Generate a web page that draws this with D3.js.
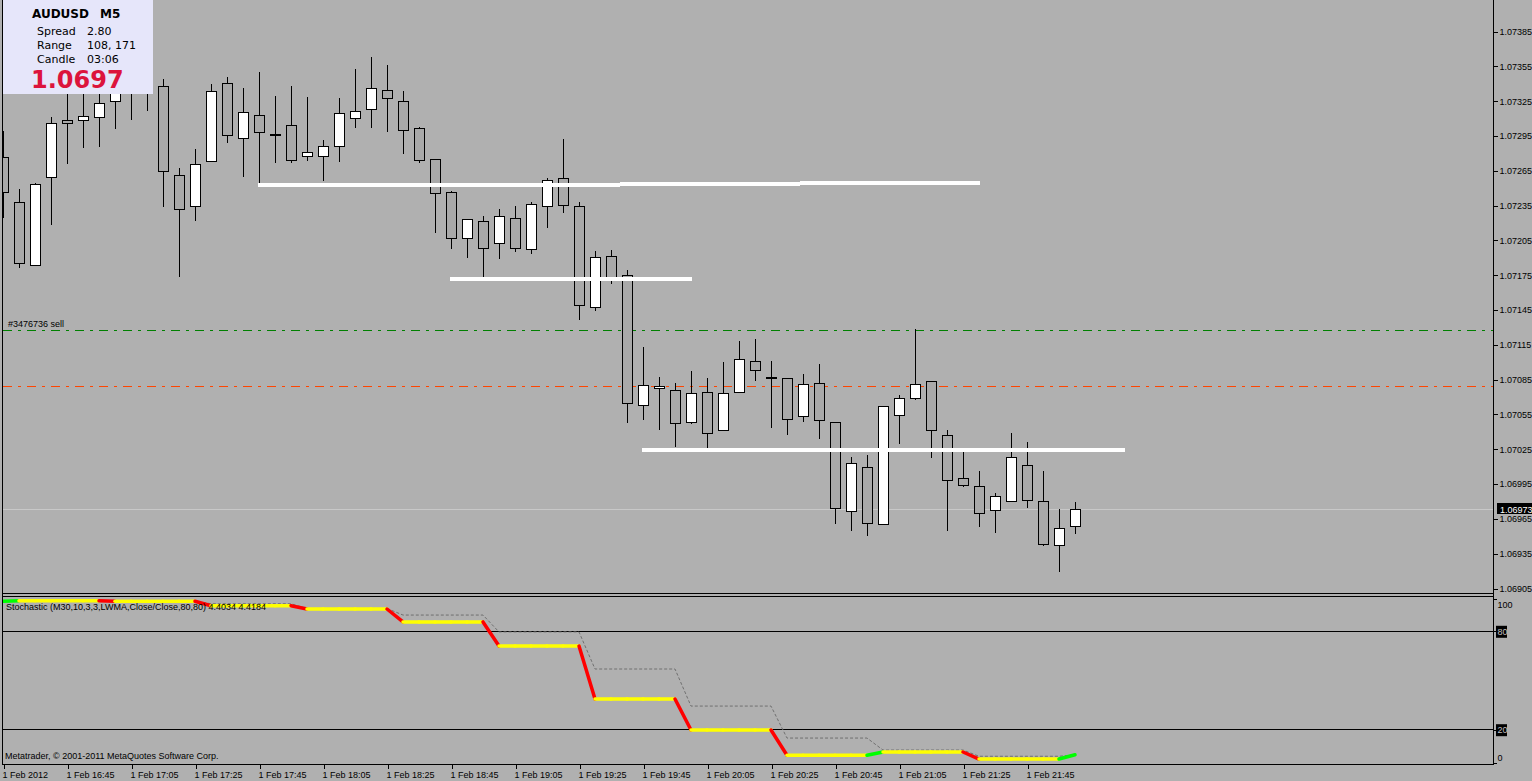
<!DOCTYPE html>
<html><head><meta charset="utf-8">
<script src="https://cdn.jsdelivr.net/npm/d3@7"></script>
<style>
html,body{margin:0;padding:0;background:#b0b0b0;overflow:hidden}
svg{display:block;font-family:"Liberation Sans",Arial,sans-serif}
</style></head><body>
<svg id="chart" width="1532" height="781"></svg>
<script>
// ---------- DATA (AUDUSD M5, 1 Feb 2012, 16:25 .. 22:00) ----------
const candleOpen = [1.07276,1.07238,1.07183,1.07259,1.07308,1.07308,1.07311,1.07325,1.07339,1.07336,
1.07338,1.07261,1.07234,1.07273,1.07340,1.07293,1.07313,1.07296,1.07304,1.07277,
1.07277,1.07286,1.07310,1.07318,1.07334,1.07325,1.07301,1.07275,1.07246,1.07207,
1.07221,1.07202,1.07224,1.07197,1.07234,1.07258,1.07234,1.07147,1.07191,1.07175,
1.07063,1.07077,1.07076,1.07048,1.07074,1.07041,1.07074,1.07101,1.07087,1.07086,
1.07053,1.07082,1.07048,1.06971,1.07009,1.06960,1.07054,1.07069,1.07083,1.07037,
1.07000,1.06993,1.06972,1.06980,1.07011,1.06980,1.06942,1.06958];
const candleHigh = [1.07299,1.07249,1.07254,1.07311,1.07343,1.07341,1.07338,1.07347,1.07351,1.07347,
1.07344,1.07267,1.07283,1.07339,1.07345,1.07336,1.07350,1.07329,1.07338,1.07328,
1.07291,1.07327,1.07352,1.07363,1.07356,1.07333,1.07302,1.07275,1.07247,1.07223,
1.07226,1.07232,1.07234,1.07238,1.07258,1.07292,1.07238,1.07195,1.07196,1.07179,
1.07113,1.07087,1.07082,1.07092,1.07086,1.07100,1.07118,1.07120,1.07101,1.07086,
1.07089,1.07098,1.07048,1.07018,1.07020,1.07062,1.07071,1.07128,1.07083,1.07041,
1.07022,1.07006,1.06987,1.07039,1.07031,1.07006,1.06973,1.06979];
const candleLow = [1.07225,1.07182,1.07183,1.07219,1.07271,1.07285,1.07286,1.07301,1.07309,1.07317,
1.07234,1.07174,1.07222,1.07273,1.07289,1.07260,1.07253,1.07272,1.07272,1.07274,
1.07257,1.07273,1.07302,1.07302,1.07299,1.07280,1.07272,1.07212,1.07198,1.07190,
1.07173,1.07189,1.07195,1.07194,1.07216,1.07229,1.07137,1.07145,1.07168,1.07048,
1.07051,1.07042,1.07027,1.07047,1.07026,1.07041,1.07074,1.07084,1.07044,1.07038,
1.07049,1.07034,1.06961,1.06955,1.06951,1.06960,1.07030,1.07068,1.07018,1.06955,
1.06993,1.06958,1.06953,1.06980,1.06975,1.06942,1.06920,1.06952];
const candleClose = [1.07246,1.07185,1.07253,1.07306,1.07306,1.07312,1.07323,1.07339,1.07334,1.07332,
1.07264,1.07232,1.07270,1.07333,1.07295,1.07315,1.07298,1.07296,1.07274,1.07281,
1.07286,1.07314,1.07316,1.07336,1.07327,1.07300,1.07274,1.07245,1.07207,1.07223,
1.07198,1.07226,1.07198,1.07236,1.07257,1.07235,1.07149,1.07190,1.07172,1.07064,
1.07080,1.07079,1.07047,1.07073,1.07039,1.07073,1.07102,1.07093,1.07087,1.07051,
1.07081,1.07050,1.06974,1.07013,1.06961,1.07062,1.07069,1.07081,1.07041,1.06998,
1.06994,1.06970,1.06984,1.07018,1.06981,1.06943,1.06957,1.06973];

// Stochastic (M30) main and signal, one value per M5 candle
const stochMain = [98.0,
 98.3,98.3,98.3,98.3,98.3,98.3,
 98.0,98.0,98.0,98.0,98.0,98.0,
 95.3,95.3,95.3,95.3,95.3,95.3,
 93.3,93.3,93.3,93.3,93.3,93.3,
 85.4,85.4,85.4,85.4,85.4,85.4,
 70.7,70.7,70.7,70.7,70.7,70.7,
 38.4,38.4,38.4,38.4,38.4,38.4,
 19.5,19.5,19.5,19.5,19.5,19.5,
 4.1,4.1,4.1,4.1,4.1,4.1,
 6.1,6.1,6.1,6.1,6.1,6.1,
 1.8,1.8,1.8,1.8,1.8,1.8,
 4.4034];
const stochSignal = [98.2,
 98.2,98.2,98.2,98.2,98.2,98.2,
 98.1,98.1,98.1,98.1,98.1,98.1,
 96.5,96.5,96.5,96.5,96.5,96.5,
 93.6,93.6,93.6,93.6,93.6,93.6,
 89.6,89.6,89.6,89.6,89.6,89.6,
 79.3,79.3,79.3,79.3,79.3,79.3,
 56.7,56.7,56.7,56.7,56.7,56.7,
 34.1,34.1,34.1,34.1,34.1,34.1,
 14.6,14.6,14.6,14.6,14.6,14.6,
 7.3,7.3,7.3,7.3,7.3,7.3,
 3.5,3.5,3.5,3.5,3.5,3.5,
 4.4184];

const timeTickIndex = [0,4,8,12,16,20,24,28,32,36,40,44,48,52,56,60,64];
const timeTickLabels = ["1 Feb 2012","1 Feb 16:45","1 Feb 17:05","1 Feb 17:25","1 Feb 17:45","1 Feb 18:05",
 "1 Feb 18:25","1 Feb 18:45","1 Feb 19:05","1 Feb 19:25","1 Feb 19:45","1 Feb 20:05","1 Feb 20:25",
 "1 Feb 20:45","1 Feb 21:05","1 Feb 21:25","1 Feb 21:45"];
const priceTicks = [1.07385,1.07355,1.07325,1.07295,1.07265,1.07235,1.07205,1.07175,1.07145,
 1.07115,1.07085,1.07055,1.07025,1.06995,1.06965,1.06935,1.06905];
const stochTicks = [100,80,20,0];
const stochLevels = [80,20];

// support / resistance lines (price, from candle, to candle)
const srPrice = [1.07252,1.07253,1.07254,1.07171,1.07024];
const srFrom  = [15.94,38.56,49.81,27.94,39.94];
const srTo    = [38.56,49.81,61.06,43.06,70.1];

const orderPrice = [1.07127,1.07079];
const orderLabel = "#3476736 sell";
const bidPrice = 1.06973;

const infoSymbol = "AUDUSD", infoPeriod = "M5";
const infoRows = [["Spread","2.80"],["Range","108, 171"],["Candle","03:06"]];
const infoPrice = "1.0697";
const stochTitle = "Stochastic (M30,10,3,3,LWMA,Close/Close,80,80) 4.4034 4.4184";
const copyright = "Metatrader, \u00A9 2001-2011 MetaQuotes Software Corp.";

// ---------- DRAW ----------
const svg = d3.select("#chart");
const BG = "#b0b0b0";
const L = 3, R = 1494, mainTop = 0, mainBot = 594, indTop = 597, indBot = 764;

const x = d3.scaleLinear().domain([0, 1]).range([3, 19]);
const y = d3.scaleLinear().domain([1.06905, 1.07385]).range([588, 31]);
const ys = d3.scaleLinear().domain([0, 100]).range([762, 598]);
const px = v => Math.round(v) + 0.5;

svg.append("rect").attr("width",1532).attr("height",781).attr("fill",BG);

const defs = svg.append("defs");
defs.append("clipPath").attr("id","clipMain").append("rect")
  .attr("x",L).attr("y",mainTop).attr("width",R-L).attr("height",mainBot-mainTop);
defs.append("clipPath").attr("id","clipInd").append("rect")
  .attr("x",L).attr("y",indTop+1).attr("width",R-L).attr("height",indBot-indTop-1);

const gMain = svg.append("g").attr("clip-path","url(#clipMain)");

// bid line
gMain.append("line").attr("x1",L).attr("x2",R).attr("y1",px(y(bidPrice))).attr("y2",px(y(bidPrice)))
  .attr("stroke","#c8c8c8").attr("stroke-width",1);

// order lines
const orderColors = ["#008000","#ff4500"];
gMain.selectAll(".ord").data(orderPrice).join("line")
  .attr("x1",L).attr("x2",R)
  .attr("y1",d=>px(y(d))).attr("y2",d=>px(y(d)))
  .attr("stroke",(d,i)=>orderColors[i]).attr("stroke-width",1)
  .attr("stroke-dasharray","9,6,3,6").attr("shape-rendering","crispEdges");
gMain.append("text").attr("x",8).attr("y",Math.round(y(orderPrice[0]))-3)
  .attr("font-size",9).attr("fill","#000").text(orderLabel);

// candles
const idx = d3.range(candleOpen.length);
gMain.selectAll(".wick").data(idx).join("line")
  .attr("x1",i=>px(x(i))).attr("x2",i=>px(x(i)))
  .attr("y1",i=>Math.round(y(candleHigh[i]))).attr("y2",i=>Math.round(y(candleLow[i]))+1)
  .attr("stroke","#000").attr("shape-rendering","crispEdges");
gMain.selectAll(".body").data(idx).join("rect")
  .attr("x",i=>Math.round(x(i))-5+0.5).attr("width",10)
  .attr("y",i=>Math.round(y(Math.max(candleOpen[i],candleClose[i])))+0.5)
  .attr("height",i=>Math.max(1,Math.round(y(Math.min(candleOpen[i],candleClose[i])))-Math.round(y(Math.max(candleOpen[i],candleClose[i])))))
  .attr("fill",i=>candleClose[i]>candleOpen[i]?"#ffffff":(candleClose[i]<candleOpen[i]?"#a9a9a9":"#000"))
  .attr("stroke","#000").attr("stroke-width",1).attr("shape-rendering","crispEdges");

// S/R lines
gMain.selectAll(".sr").data(srPrice).join("line")
  .attr("x1",(d,i)=>x(srFrom[i])).attr("x2",(d,i)=>x(srTo[i]))
  .attr("y1",d=>y(d)).attr("y2",d=>y(d))
  .attr("stroke","#ffffff").attr("stroke-width",4).attr("shape-rendering","crispEdges");

// info box
const info = svg.append("g").attr("font-family","'DejaVu Sans', Verdana, sans-serif");
info.append("rect").attr("x",L).attr("y",0).attr("width",150).attr("height",94).attr("fill","#e6e6fa");
info.append("text").attr("x",32).attr("y",18).attr("font-weight","bold")
  .attr("font-size",12).attr("fill","#000").text(infoSymbol);
info.append("text").attr("x",100).attr("y",18).attr("font-weight","bold")
  .attr("font-size",12).attr("fill","#000").text(infoPeriod);
infoRows.forEach((r,k)=>{
  info.append("text").attr("x",37).attr("y",35+14*k)
    .attr("font-size",11).attr("fill","#000").text(r[0]);
  info.append("text").attr("x",87).attr("y",35+14*k)
    .attr("font-size",11).attr("fill","#000").text(r[1]);
});
info.append("text").attr("x",31).attr("y",87.5).attr("font-weight","bold")
  .attr("font-size",24).attr("fill","#dc143c").text(infoPrice);

// indicator panel
const gInd = svg.append("g").attr("clip-path","url(#clipInd)");
gInd.selectAll(".lvl").data(stochLevels).join("line")
  .attr("x1",L).attr("x2",R).attr("y1",d=>px(ys(d))).attr("y2",d=>px(ys(d)))
  .attr("stroke","#000").attr("shape-rendering","crispEdges");

const sigLine = d3.line().x((d,i)=>x(i)).y(d=>ys(d));
gInd.append("path").attr("d",sigLine(stochSignal)).attr("fill","none")
  .attr("stroke","#707070").attr("stroke-width",1).attr("stroke-dasharray","3,2");

const segs = d3.range(1, stochMain.length);
gInd.selectAll(".seg").data(segs).join("line")
  .attr("x1",i=>x(i-1)).attr("x2",i=>x(i))
  .attr("y1",i=>ys(stochMain[i-1])).attr("y2",i=>ys(stochMain[i]))
  .attr("stroke",i=>stochMain[i]>stochMain[i-1]?"#00ff00":(stochMain[i]<stochMain[i-1]?"#ff0000":"#ffff00"))
  .attr("stroke-width",3.5).attr("stroke-linecap","round");

svg.append("text").attr("x",6).attr("y",610).attr("font-size",9).attr("fill","#000").text(stochTitle);
svg.append("text").attr("x",5).attr("y",759).attr("font-size",9).attr("fill","#000").text(copyright);

// frames
const frame = svg.append("g").attr("stroke","#000").attr("fill","none").attr("shape-rendering","crispEdges");
frame.append("line").attr("x1",2.5).attr("x2",2.5).attr("y1",0).attr("y2",indBot);
frame.append("line").attr("x1",R-0.5).attr("x2",R-0.5).attr("y1",0).attr("y2",indBot+1);
frame.append("line").attr("x1",2).attr("x2",R).attr("y1",mainBot-0.5).attr("y2",mainBot-0.5);
frame.append("line").attr("x1",2).attr("x2",R).attr("y1",indTop-0.5).attr("y2",indTop-0.5);
frame.append("line").attr("x1",2).attr("x2",R).attr("y1",indBot+0.5).attr("y2",indBot+0.5);

// price axis
const yAxis = d3.axisRight(y).tickValues(priceTicks).tickSize(4).tickPadding(2).tickFormat(d3.format(".5f"));
const gy = svg.append("g").attr("transform",`translate(${R-0.5},0.5)`).call(yAxis);
gy.select(".domain").remove();
gy.selectAll(".tick line").attr("stroke","#000").attr("shape-rendering","crispEdges");
gy.selectAll(".tick text").attr("fill","#000").attr("font-size",9).attr("font-family","Liberation Sans");

// bid label
const bidY = Math.round(y(bidPrice));
svg.append("rect").attr("x",1497).attr("y",bidY-6).attr("width",35).attr("height",11).attr("fill","#000");
svg.append("text").attr("x",1500).attr("y",bidY+3.5).attr("font-size",9).attr("fill","#fff").text(d3.format(".5f")(bidPrice));

// stochastic axis
const sAxis = d3.axisRight(ys).tickValues(stochTicks).tickSize(3).tickPadding(1).tickFormat(d3.format("d"));
const gs = svg.append("g").attr("transform",`translate(${R-0.5},0.5)`).call(sAxis);
gs.select(".domain").remove();
gs.selectAll(".tick line").attr("stroke","#000").attr("shape-rendering","crispEdges");
gs.selectAll(".tick text").attr("fill","#000").attr("font-size",9).attr("font-family","Liberation Sans")
  .attr("dy",d=>d===100?"0.95em":(d===0?"-0.2em":"0.32em"));
gs.selectAll(".tick").filter(d=>stochLevels.includes(d)).each(function(){
  const t = d3.select(this);
  t.insert("rect","text").attr("x",2.5).attr("y",-6).attr("width",11).attr("height",12).attr("fill","#000");
  t.select("text").attr("fill","#c0c0c0");
});

// time axis
const xAxis = d3.axisBottom(x).tickValues(timeTickIndex).tickSize(4).tickPadding(3)
  .tickFormat((d,k)=>timeTickLabels[k]);
const gx = svg.append("g").attr("transform",`translate(0.5,${indBot+0.5})`).call(xAxis);
gx.select(".domain").remove();
gx.selectAll(".tick line").attr("stroke","#000").attr("shape-rendering","crispEdges");
gx.selectAll(".tick text").attr("fill","#000").attr("font-size",9).attr("font-family","Liberation Sans")
  .attr("text-anchor","start").attr("x",-1.5);
</script>
</body></html>
